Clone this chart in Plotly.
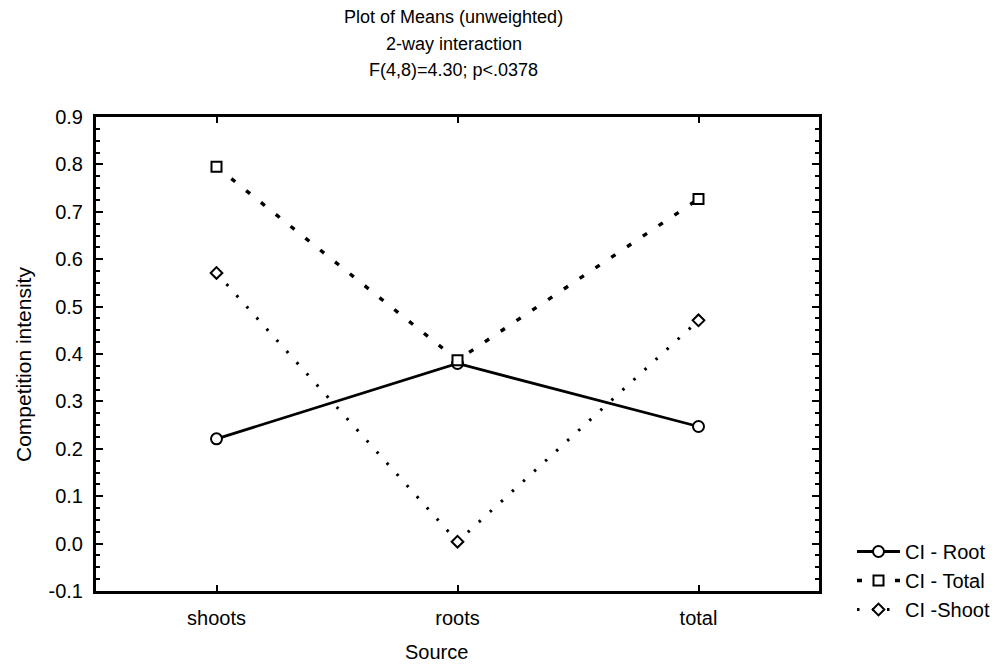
import plotly.graph_objects as go

# Plot of means: competition intensity by source, three response variables
sources = ["shoots", "roots", "total"]
ci_root = [0.221, 0.38, 0.247]
ci_total = [0.795, 0.387, 0.727]
ci_shoot = [0.571, 0.004, 0.471]

series_names = ["CI - Root", "CI - Total", "CI -Shoot"]
title_lines = ["Plot of Means (unweighted)", "2-way interaction", "F(4,8)=4.30; p<.0378"]
y_ticks = [-0.1, 0.0, 0.1, 0.2, 0.3, 0.4, 0.5, 0.6, 0.7, 0.8, 0.9]

FONT = "Liberation Sans, Arial, sans-serif"
PLOT_L, PLOT_R, PLOT_T, PLOT_B = 96, 819, 117, 591

fig = go.Figure()

# white-filled markers so the connecting lines stop at the symbol edge
styles = [
    (ci_root, "solid", 2.8, "circle", 11),
    (ci_total, "5px,14px", 3.4, "square", 10),
    (ci_shoot, "2.5px,12.5px", 3, "diamond", 9),
]
for name, (vals, dash, lw, sym, ms) in zip(series_names, styles):
    fig.add_trace(go.Scatter(
        x=sources, y=vals, name=name, mode="lines+markers",
        line=dict(color="black", width=lw, dash=dash),
        marker=dict(symbol=sym, size=ms, color="white",
                    line=dict(color="black", width=2)),
    ))

fig.update_layout(
    width=995, height=664,
    margin=dict(l=PLOT_L, r=995 - PLOT_R, t=PLOT_T, b=664 - PLOT_B,
                autoexpand=False),
    paper_bgcolor="white", plot_bgcolor="white",
    font=dict(family=FONT, size=20, color="black"),
    showlegend=True,
    legend=dict(x=(852 - PLOT_L) / (PLOT_R - PLOT_L),
                y=(PLOT_B - 532) / (PLOT_B - PLOT_T),
                xanchor="left", yanchor="top",
                font=dict(size=20), tracegroupgap=0, itemwidth=43,
                bgcolor="rgba(0,0,0,0)"),
)

fig.update_xaxes(
    type="category", range=[-0.5, 2.5],
    showline=True, linecolor="black", linewidth=3, mirror="ticks",
    ticks="inside", ticklen=6, tickwidth=2, tickcolor="black",
    showgrid=False, zeroline=False,
    tickfont=dict(size=20), ticklabelstandoff=7,
)
fig.update_yaxes(
    range=[-0.1, 0.9], tickvals=y_ticks,
    ticktext=[f"{v:.1f}" for v in y_ticks],
    showline=True, linecolor="black", linewidth=3, mirror="ticks",
    ticks="inside", ticklen=7, tickwidth=2, tickcolor="black",
    minor=dict(dtick=0.025, ticks="inside", ticklen=4, tickwidth=2,
               tickcolor="black", showgrid=False),
    showgrid=False, zeroline=False,
    tickfont=dict(size=20), ticklabelstandoff=6,
)

# Title block above the plot
for i, line in enumerate(title_lines):
    fig.add_annotation(
        text=line, xref="paper", yref="paper", x=0.495, y=1.0,
        yshift=100 - 26.5 * i, showarrow=False, yanchor="middle",
        font=dict(size=18),
    )

# Axis titles
fig.add_annotation(text="Source", xref="paper", yref="paper",
                   x=(436 - PLOT_L) / (PLOT_R - PLOT_L), y=0, yshift=-61,
                   showarrow=False, yanchor="middle", font=dict(size=20))
fig.add_annotation(text="Competition intensity", xref="paper", yref="paper",
                   x=0, xshift=-73, y=(PLOT_B - 365) / (PLOT_B - PLOT_T),
                   showarrow=False, textangle=-90, xanchor="center",
                   font=dict(size=21))

fig.write_html("out.html")
